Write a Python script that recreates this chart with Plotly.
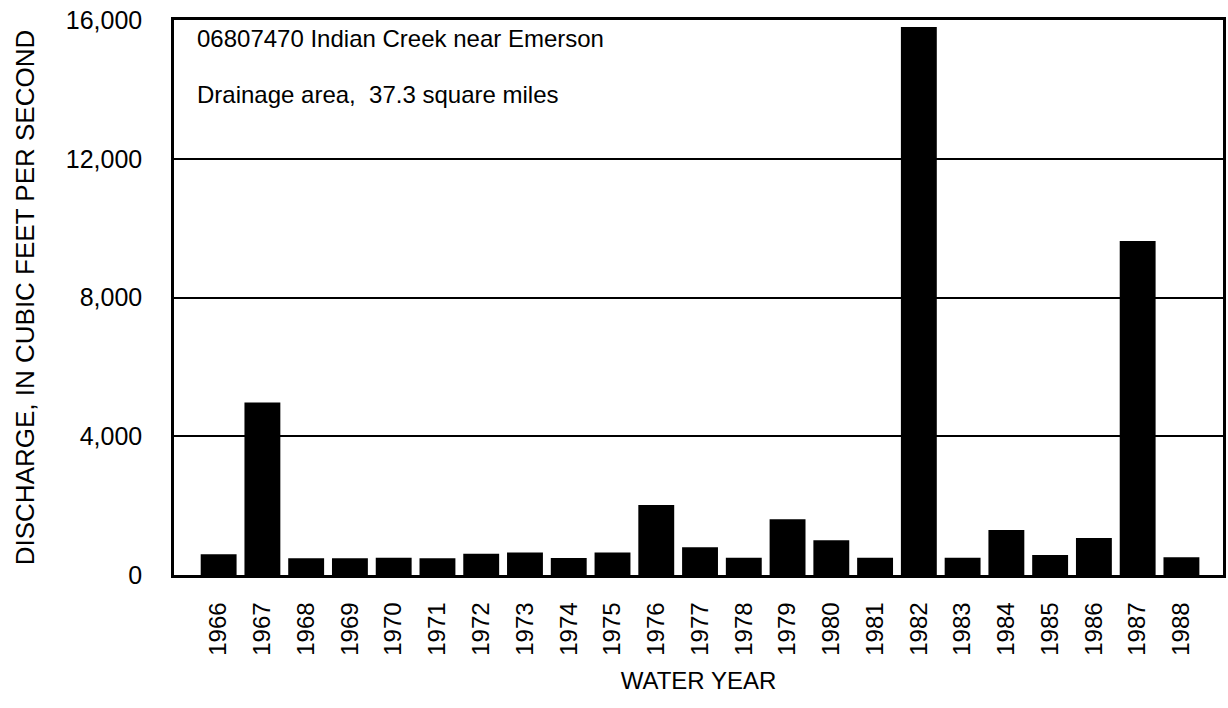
import plotly.graph_objects as go

years = [str(y) for y in range(1966, 1989)]
discharge = [600, 4970, 480, 480, 500, 480, 610, 650, 490, 650, 2020, 800, 500,
             1610, 1000, 500, 15800, 500, 1300, 580, 1070, 9630, 510]
y_ticks = [0, 4000, 8000, 12000, 16000]
y_tick_labels = ["0", "4,000", "8,000", "12,000", "16,000"]

FONT = "Liberation Sans, Arial, Helvetica, sans-serif"

fig = go.Figure(go.Bar(x=years, y=discharge, marker=dict(color="black", line=dict(width=0))))

fig.update_layout(
    width=1228, height=708,
    margin=dict(l=174, r=2, t=20, b=133),
    paper_bgcolor="white", plot_bgcolor="white",
    bargap=0.18,
    showlegend=False,
    font=dict(family=FONT, color="black", size=24),
)
fig.update_xaxes(
    type="category", tickangle=-90, tickfont=dict(size=24),
    range=[-1.02, 22.95],
    showline=True, linecolor="black", linewidth=2.5, mirror=True,
    ticks="", showgrid=False, ticklabelstandoff=15,
    title=dict(text="WATER YEAR", font=dict(size=24), standoff=18),
)
fig.update_yaxes(
    range=[0, 16000], tickvals=y_ticks, ticktext=y_tick_labels,
    tickfont=dict(size=25), ticklabelstandoff=24,
    showline=True, linecolor="black", linewidth=2.5, mirror=True,
    showgrid=True, gridcolor="black", gridwidth=2,
    ticks="", zeroline=False,
    title=dict(text="DISCHARGE, IN CUBIC FEET PER SECOND", font=dict(size=26), standoff=24),
)
fig.add_annotation(text="06807470 Indian Creek near Emerson", xref="paper", yref="paper",
                   x=0.02, y=0.966, xanchor="left", yanchor="middle", showarrow=False,
                   font=dict(size=24))
fig.add_annotation(text="Drainage area,\u00a0 37.3 square miles", xref="paper", yref="paper",
                   x=0.02, y=0.866, xanchor="left", yanchor="middle", showarrow=False,
                   font=dict(size=24))

fig.write_html("out.html", config={"displayModeBar": False},
               post_script="document.body.style.margin='0';document.body.style.overflow='hidden';")
